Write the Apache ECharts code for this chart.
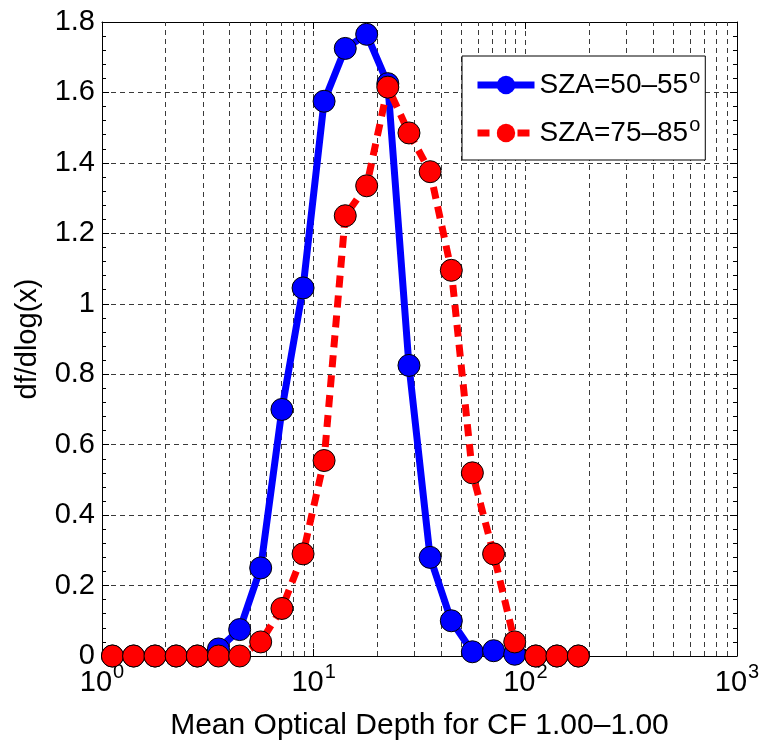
<!DOCTYPE html>
<html>
<head>
<meta charset="utf-8">
<script src="https://cdn.jsdelivr.net/npm/echarts@6/dist/echarts.min.js"></script>
<style>html,body{margin:0;padding:0;background:#fff;}#c{width:762px;height:745px;}</style>
</head>
<body>
<div id="c"></div>
<script>
// Bin centres (mean optical depth, log-spaced)
const xValues = [1.12, 1.41, 1.78, 2.24, 2.82, 3.55, 4.47, 5.62, 7.08, 8.91, 11.2, 14.1, 17.8, 22.4, 28.2, 35.5, 44.7, 56.2, 70.8, 89.1, 112, 141, 178];
// df/dlog(x) for SZA 50-55
const sza5055 = [0, 0, 0, 0, 0, 0.02, 0.075, 0.25, 0.70, 1.045, 1.575, 1.725, 1.765, 1.625, 0.825, 0.28, 0.10, 0.012, 0.015, 0.005, 0, 0, 0];
// df/dlog(x) for SZA 75-85
const sza7585 = [0, 0, 0, 0, 0, 0, 0, 0.04, 0.135, 0.29, 0.555, 1.25, 1.335, 1.615, 1.485, 1.375, 1.095, 0.52, 0.29, 0.04, 0, 0, 0];
const seriesNames = ['SZA=50–55', 'SZA=75–85'];
const yTicks = [0, 0.2, 0.4, 0.6, 0.8, 1, 1.2, 1.4, 1.6, 1.8];
const xTickExponents = [0, 1, 2, 3];

const FONT = "'Liberation Sans', Arial, Helvetica, sans-serif";
const minorGrid = [];
for (let d = 1; d <= 100; d *= 10) for (let m = 2; m <= 9; m++) minorGrid.push(m * d);

const chart = echarts.init(document.getElementById('c'), null, {renderer: 'canvas'});
const gridDash = {color: '#3a3a3a', width: 1, type: [5, 4]};

chart.setOption({
  animation: false,
  backgroundColor: '#fff',
  grid: {left: 102, right: 25, top: 22, bottom: 89, containLabel: false, outerBoundsMode: 'none'},
  legend: {
    orient: 'vertical', left: 462, top: 56,
    backgroundColor: '#fff', borderColor: '#000', borderWidth: 1,
    padding: [11, 5, 13, 12],
    itemWidth: 57, itemHeight: 23, itemGap: 16,
    itemStyle: {borderWidth: 0},
    lineStyle: {width: 7},
    textStyle: {fontSize: 28, fontFamily: FONT, color: '#000',
      rich: {s: {fontSize: 20, fontFamily: FONT, color: '#000', verticalAlign: 'bottom', padding: [0, 0, 16, 1]}}},
    formatter: n => n + '{s|o}',
    data: seriesNames
  },
  xAxis: [{
    type: 'log', logBase: 10, min: 1, max: 1000, position: 'bottom',
    name: 'Mean Optical Depth for CF 1.00–1.00', nameLocation: 'middle', nameGap: 55,
    nameTextStyle: {fontSize: 30, fontFamily: FONT, color: '#000'},
    axisLine: {show: true, onZero: false, lineStyle: {color: '#000', width: 1}},
    axisTick: {show: true, inside: true, length: 7, lineStyle: {color: '#000'}},
    axisLabel: {
      margin: 6, color: '#000',
      formatter: v => '{b|10}{e|' + Math.round(Math.log10(v)) + '}',
      rich: {
        b: {fontSize: 29, fontFamily: FONT, color: '#000'},
        e: {fontSize: 20, fontFamily: FONT, color: '#000', verticalAlign: 'bottom', padding: [0, 0, 21, 1]}
      }
    },
    splitLine: {show: true, lineStyle: gridDash}
  }, {
    type: 'log', logBase: 10, min: 1, max: 1000, position: 'top',
    axisLine: {show: true, onZero: false, lineStyle: {color: '#000', width: 1}},
    axisTick: {show: true, inside: true, length: 7, lineStyle: {color: '#000'}},
    axisLabel: {show: false}, splitLine: {show: false}
  }],
  yAxis: [{
    type: 'value', min: 0, max: 1.8, interval: 0.2, position: 'left',
    name: 'df/dlog(x)', nameLocation: 'middle', nameGap: 60, nameRotate: 90,
    nameTextStyle: {fontSize: 29, fontFamily: FONT, color: '#000'},
    axisLine: {show: true, onZero: false, lineStyle: {color: '#000', width: 1}},
    axisTick: {show: true, inside: true, length: 7, lineStyle: {color: '#000'}},
    minorTick: {show: true, splitNumber: 5, length: 4, lineStyle: {color: '#000'}},
    axisLabel: {margin: 7, fontSize: 29, fontFamily: FONT, color: '#000',
      formatter: v => String(parseFloat(v.toFixed(1)))},
    splitLine: {show: true, lineStyle: gridDash}
  }, {
    type: 'value', min: 0, max: 1.8, interval: 0.2, position: 'right',
    axisLine: {show: true, onZero: false, lineStyle: {color: '#000', width: 1}},
    axisTick: {show: true, inside: true, length: 7, lineStyle: {color: '#000'}},
    minorTick: {show: true, splitNumber: 5, length: 4, lineStyle: {color: '#000'}},
    axisLabel: {show: false}, splitLine: {show: false}
  }],
  series: [
    {
      type: 'line', name: '_grid', data: [], silent: true, legendHoverLink: false,
      markLine: {silent: true, z: 1, symbol: ['none', 'none'], label: {show: false},
        lineStyle: gridDash, animation: false,
        data: minorGrid.map(v => ({xAxis: v}))}
    },
    {
      type: 'line', name: seriesNames[0],
      data: xValues.map((x, i) => [x, sza5055[i]]),
      symbol: 'circle', symbolSize: 22,
      lineStyle: {color: '#0000ff', width: 7, type: 'solid'},
      itemStyle: {color: '#0000ff', borderColor: '#000', borderWidth: 1},
      z: 3
    },
    {
      type: 'line', name: seriesNames[1],
      data: xValues.map((x, i) => [x, sza7585[i]]),
      symbol: 'circle', symbolSize: 22,
      lineStyle: {color: '#ff0000', width: 7, type: [12, 8]},
      itemStyle: {color: '#ff0000', borderColor: '#000', borderWidth: 1},
      z: 4
    }
  ]
});
</script>
</body>
</html>
